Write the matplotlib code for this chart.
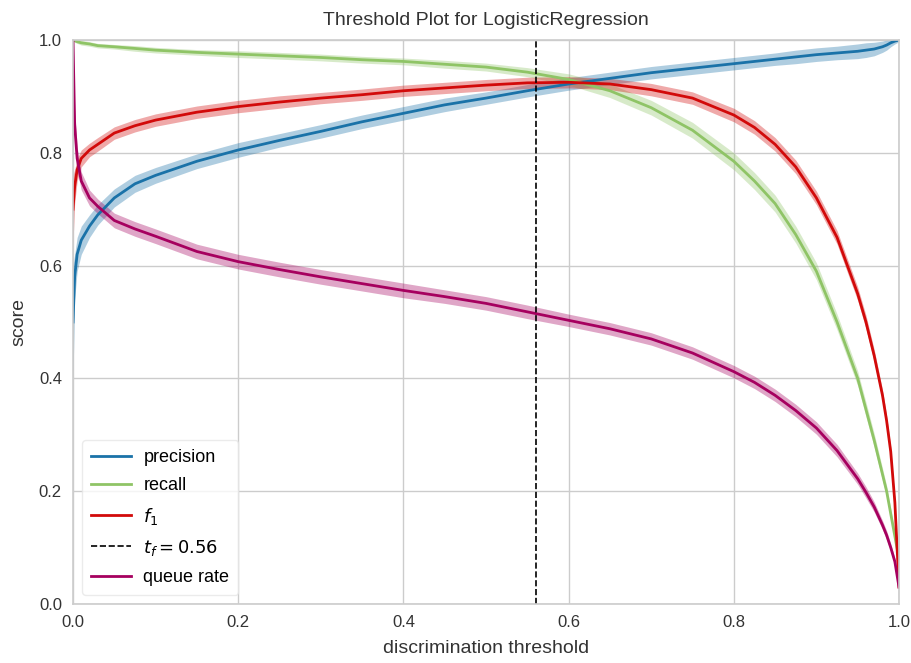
import matplotlib
matplotlib.use("Agg")
import matplotlib.pyplot as plt
import numpy as np

thresholds = [0, 0.002, 0.005, 0.01, 0.02, 0.03, 0.05, 0.075, 0.1, 0.15, 0.2, 0.25, 0.3, 0.35,
              0.4, 0.45, 0.5, 0.55, 0.6, 0.65, 0.7, 0.75, 0.8, 0.825, 0.85, 0.875, 0.9, 0.925,
              0.95, 0.96, 0.97, 0.98, 0.985, 0.99, 0.995, 1.0]

precision = [0.50, 0.58, 0.62, 0.645, 0.67, 0.69, 0.72, 0.745, 0.76, 0.785, 0.805, 0.822, 0.838,
             0.855, 0.87, 0.885, 0.897, 0.91, 0.922, 0.932, 0.942, 0.95, 0.958, 0.962, 0.966,
             0.97, 0.974, 0.977, 0.98, 0.982, 0.984, 0.988, 0.991, 0.995, 0.998, 1.0]
recall = [1.0, 0.999, 0.997, 0.995, 0.993, 0.99, 0.988, 0.985, 0.982, 0.978, 0.975, 0.972, 0.969,
          0.965, 0.962, 0.957, 0.952, 0.943, 0.93, 0.91, 0.88, 0.84, 0.785, 0.75, 0.71, 0.655,
          0.59, 0.50, 0.40, 0.345, 0.29, 0.23, 0.20, 0.16, 0.12, 0.08]
f1 = [0.70, 0.74, 0.77, 0.79, 0.805, 0.815, 0.835, 0.848, 0.858, 0.872, 0.882, 0.89, 0.897, 0.903,
      0.91, 0.915, 0.92, 0.924, 0.925, 0.922, 0.912, 0.897, 0.867, 0.845, 0.815, 0.775, 0.72,
      0.65, 0.55, 0.50, 0.44, 0.37, 0.325, 0.27, 0.18, 0.03]
queue_rate = [1.0, 0.85, 0.79, 0.75, 0.72, 0.705, 0.68, 0.665, 0.652, 0.625, 0.607, 0.593, 0.58,
              0.568, 0.556, 0.545, 0.533, 0.518, 0.503, 0.488, 0.47, 0.445, 0.412, 0.393, 0.37,
              0.343, 0.312, 0.272, 0.222, 0.198, 0.172, 0.14, 0.122, 0.10, 0.075, 0.03]

# half-widths of the quantile bands
precision_band = [0.10, 0.04, 0.03, 0.025, 0.02, 0.018, 0.016, 0.015, 0.014, 0.013, 0.013, 0.012,
                  0.012, 0.012, 0.012, 0.012, 0.011, 0.011, 0.011, 0.011, 0.011, 0.011, 0.011,
                  0.011, 0.011, 0.012, 0.012, 0.012, 0.013, 0.013, 0.012, 0.01, 0.009, 0.007,
                  0.005, 0.003]
recall_band = [0.002, 0.003, 0.003, 0.004, 0.004, 0.004, 0.004, 0.005, 0.005, 0.005, 0.006, 0.006,
               0.006, 0.006, 0.006, 0.007, 0.007, 0.008, 0.01, 0.012, 0.013, 0.014, 0.015, 0.015,
               0.015, 0.015, 0.015, 0.014, 0.013, 0.013, 0.012, 0.011, 0.01, 0.009, 0.007, 0.005]
f1_band = [0.06, 0.03, 0.02, 0.015, 0.012, 0.012, 0.011, 0.011, 0.011, 0.011, 0.011, 0.011, 0.01,
           0.01, 0.01, 0.01, 0.01, 0.01, 0.01, 0.01, 0.011, 0.011, 0.012, 0.012, 0.012, 0.012,
           0.012, 0.012, 0.012, 0.012, 0.011, 0.01, 0.009, 0.008, 0.006, 0.004]
queue_band = [0.04, 0.03, 0.02, 0.016, 0.014, 0.013, 0.013, 0.013, 0.013, 0.013, 0.013, 0.013,
              0.013, 0.013, 0.013, 0.012, 0.012, 0.012, 0.011, 0.011, 0.011, 0.011, 0.011, 0.011,
              0.011, 0.011, 0.011, 0.011, 0.01, 0.01, 0.009, 0.008, 0.008, 0.007, 0.006, 0.004]

best_threshold = 0.56

series = [
    ("precision", precision, precision_band, "#1a72a8"),
    ("recall", recall, recall_band, "#8fc466"),
    ("$f_1$", f1, f1_band, "#d20a0a"),
    ("queue rate", queue_rate, queue_band, "#a6005f"),
]

plt.rcParams['font.family'] = ['Liberation Sans', 'DejaVu Sans']
plt.rcParams['mathtext.fontset'] = 'dejavusans'

fig = plt.figure(figsize=(9.12, 6.63), dpi=100)
ax = fig.add_axes([73 / 912, 1 - 604 / 663, (899 - 73) / 912, (604 - 40) / 663])

x = np.array(thresholds)
handles = {}
for name, vals, band, color in series:
    v = np.array(vals)
    b = np.array(band)
    ax.fill_between(x, np.clip(v - b, 0, 1), np.clip(v + b, 0, 1), color=color, alpha=0.35, lw=0)
    (ln,) = ax.plot(x, v, color=color, lw=2, label=name, solid_joinstyle="round")
    handles[name] = ln

vl = ax.axvline(best_threshold, color="black", ls="--", lw=1.2, label="$t_f = %.2f$" % best_threshold)

order = [handles["precision"], handles["recall"], handles["$f_1$"], vl, handles["queue rate"]]
leg = ax.legend(handles=order, loc="lower left", frameon=True, fontsize=13, borderpad=0.5,
                handlelength=2.2, labelspacing=0.62, handletextpad=0.7,
                bbox_to_anchor=(0.0, 0.0))
leg.get_frame().set_edgecolor("#e6e6e6")
leg.get_frame().set_facecolor("white")
leg.get_frame().set_alpha(0.8)

ax.set_xlim(0, 1)
ax.set_ylim(0, 1)
ax.set_xticks([0, 0.2, 0.4, 0.6, 0.8, 1.0])
ax.set_yticks([0, 0.2, 0.4, 0.6, 0.8, 1.0])
ax.grid(True, color="#cccccc", lw=1)
ax.set_axisbelow(True)
for s in ax.spines.values():
    s.set_color("#cccccc")
    s.set_linewidth(1.2)
ax.tick_params(length=0, labelsize=12, colors="#333333", pad=8)
ax.set_title("Threshold Plot for LogisticRegression", fontsize=14, color="#333333", pad=11)
ax.set_xlabel("discrimination threshold", fontsize=14, color="#333333", labelpad=7)
ax.set_ylabel("score", fontsize=14, color="#333333", labelpad=8)

fig.savefig("out.png", dpi=100, facecolor="white")
